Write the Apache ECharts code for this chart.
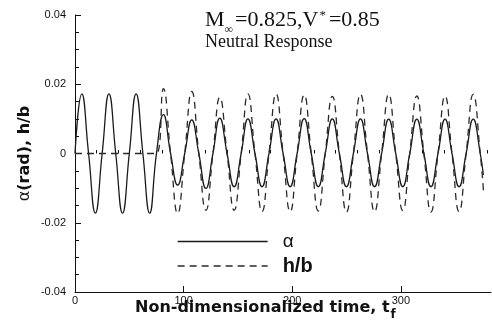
<!DOCTYPE html>
<html>
<head>
<meta charset="utf-8">
<script src="https://cdn.jsdelivr.net/npm/echarts@6/dist/echarts.min.js"></script>
<style>
html,body{margin:0;padding:0;background:#fff;}
#chart{width:492px;height:327px;}
</style>
</head>
<body>
<div id="chart"></div>
<script>
// time samples (non-dimensionalized time)
var timeT = [0, 6.25, 12.5, 18.75, 25, 31.25, 37.5, 43.75, 50, 56.25, 62.5, 68.75, 75,
  81.4, 88, 94.5, 101, 107.5, 114, 120.5, 127, 133.3, 140, 146.5, 153, 159.2, 165.7, 172.2, 178.6,
  185.1, 191.6, 198.1, 204.5, 211, 217.5, 224, 230.4, 236.9, 243.4, 249.9, 256.3, 262.8, 269.3,
  275.8, 282.3, 288.8, 295.3, 301.8, 308.2, 314.7, 321.2, 327.7, 334.2, 340.7, 347.1, 353.6, 360.1,
  366.6, 373.1, 376];
// alpha (rad)
var alphaV = [0, 0.0172, 0, -0.0172, 0, 0.0172, 0, -0.0172, 0, 0.0172, 0, -0.0172, 0,
  0.0112, 0, -0.0091, 0, 0.0097, 0, -0.0101, 0, 0.0102, 0, -0.0096, 0, 0.0100, 0, -0.0096, 0,
  0.0100, 0, -0.0096, 0, 0.0101, 0, -0.0096, 0, 0.0100, 0, -0.0096, 0, 0.0100, 0,
  -0.0096, 0, 0.0099, 0, -0.0096, 0, 0.0099, 0, -0.0096, 0, 0.0099, 0, -0.0096, 0,
  0.0099, 0, -0.0062];
// h/b
var hbV = [0, 0, 0, 0, 0, 0, 0, 0, 0, 0, 0, 0, 0,
  0.0187, 0, -0.0173, 0, 0.0179, 0, -0.0164, 0, 0.0162, 0, -0.0164, 0, 0.0172, 0, -0.0168, 0,
  0.0172, 0, -0.0168, 0, 0.0169, 0, -0.0166, 0, 0.0165, 0, -0.0169, 0, 0.0171, 0,
  -0.0168, 0, 0.0171, 0, -0.0165, 0, 0.0166, 0, -0.0169, 0, 0.0166, 0, -0.0168, 0,
  0.0171, 0, -0.0107];
var seriesNames = ['α', 'h/b'];
var xMajorTicks = [0, 100, 200, 300];
var xMinorTicks = [20, 40, 60, 80, 120, 140, 160, 180, 220, 240, 260, 280, 320, 340, 360, 380];
var yTicks = [-0.04, -0.02, 0, 0.02, 0.04];

function pairs(t, v) { return t.map(function (x, i) { return [x, v[i]]; }); }

var chart = echarts.init(document.getElementById('chart'), null, {renderer: 'canvas'});
var axisColor = '#111';
var sansTick = {fontFamily: 'Liberation Sans', fontSize: 11, color: '#111'};
var hiddenSymbol = {color: 'rgba(0,0,0,0)', borderWidth: 0, opacity: 0};

chart.setOption({
  backgroundColor: '#fff',
  animation: false,
  grid: {left: 75, right: 1, top: 15, bottom: 35, containLabel: false},
  title: [
    {
      left: 205, top: 9, padding: 0,
      text: '{m|M}{i|∞}{m|=0.825,V}{s|*}{m|=0.85}',
      textStyle: {fontWeight: 'normal', rich: {
        m: {fontFamily: 'Liberation Serif', fontWeight: 'normal', fontSize: 22, lineHeight: 22, color: '#111'},
        i: {fontFamily: 'Liberation Serif', fontWeight: 'normal', fontSize: 12, lineHeight: 12, padding: [20, 2, 0, 0], color: '#111'},
        s: {fontFamily: 'Liberation Serif', fontWeight: 'normal', fontSize: 13, lineHeight: 13, padding: [0, 3, 8, 1], color: '#111'}
      }}
    },
    {
      left: 205, top: 33, padding: 0,
      text: 'Neutral Response',
      textStyle: {fontFamily: 'Liberation Serif', fontSize: 18, fontWeight: 'normal', lineHeight: 18, color: '#111'}
    },
    {
      left: 135, top: 300, padding: 0,
      text: '{t|Non-dimensionalized time, t}{s|f}',
      textStyle: {rich: {
        t: {fontFamily: 'DejaVu Sans', fontWeight: 'bold', fontSize: 16, lineHeight: 16, color: '#111'},
        s: {fontFamily: 'DejaVu Sans', fontWeight: 'bold', fontSize: 12, lineHeight: 12, padding: [13, 0, 0, 1], color: '#111'}
      }}
    }
  ],
  legend: [
    {
      data: [seriesNames[0]], left: 177, top: 232, padding: 0, orient: 'vertical',
      itemWidth: 90, itemHeight: 20, selectedMode: false,
      itemStyle: hiddenSymbol,
      lineStyle: {color: '#1a1a1a', width: 1.3, type: 'solid'},
      formatter: function (n) { return '{a|' + n + '}'; },
      textStyle: {rich: {a: {fontFamily: 'Liberation Sans', fontSize: 19, lineHeight: 20, padding: [0, 0, 0, 10], color: '#111'}}}
    },
    {
      data: [seriesNames[1]], left: 177, top: 256, padding: 0, orient: 'vertical',
      itemWidth: 90, itemHeight: 20, selectedMode: false,
      itemStyle: hiddenSymbol,
      lineStyle: {color: '#2a2a2a', width: 1.3, type: [7, 5]},
      formatter: function (n) { return '{b|' + n + '}'; },
      textStyle: {rich: {b: {fontFamily: 'Liberation Sans', fontWeight: 'bold', fontSize: 20, lineHeight: 20, padding: [0, 0, 0, 10], color: '#111'}}}
    }
  ],
  xAxis: [
    {
      type: 'value', min: 0, max: 383, position: 'bottom',
      axisLine: {show: true, onZero: false, lineStyle: {color: axisColor, width: 1}},
      axisTick: {show: true, inside: true, length: 6, customValues: xMajorTicks, lineStyle: {color: axisColor}},
      axisLabel: Object.assign({show: true, margin: 3, customValues: xMajorTicks}, sansTick),
      splitLine: {show: false}
    },
    {
      type: 'value', min: 0, max: 383, position: 'bottom',
      axisLine: {show: false},
      axisTick: {show: true, inside: true, length: 3.5, customValues: xMinorTicks, lineStyle: {color: axisColor}},
      axisLabel: {show: false},
      splitLine: {show: false}
    }
  ],
  yAxis: {
    type: 'value', min: -0.04, max: 0.04, interval: 0.02,
    name: '{a|α}{b|(rad), h/b}', nameLocation: 'middle', nameRotate: 90, nameGap: 42,
    nameMoveOverlap: false,
    nameTextStyle: {rich: {
      a: {fontFamily: 'DejaVu Sans', fontSize: 16, color: '#111'},
      b: {fontFamily: 'DejaVu Sans', fontWeight: 'bold', fontSize: 16, color: '#111'}
    }},
    axisLine: {show: true, onZero: false, lineStyle: {color: axisColor, width: 1}},
    axisTick: {show: true, inside: true, length: 6, lineStyle: {color: axisColor}},
    minorTick: {show: true, splitNumber: 4, length: 4, lineStyle: {color: axisColor}},
    axisLabel: Object.assign({margin: 9, customValues: yTicks, formatter: function (v) { return String(+v.toFixed(2)); }}, sansTick),
    splitLine: {show: false}
  },
  series: [
    {
      name: seriesNames[0], type: 'line', xAxisIndex: 0, data: pairs(timeT, alphaV),
      symbol: 'none', smooth: 0.5, clip: true, color: '#1a1a1a',
      lineStyle: {color: '#1a1a1a', width: 1.3, type: 'solid'}
    },
    {
      name: seriesNames[1], type: 'line', xAxisIndex: 0, data: pairs(timeT, hbV),
      symbol: 'none', smooth: 0.5, clip: true, color: '#2a2a2a',
      lineStyle: {color: '#2a2a2a', width: 1.3, type: [7, 5]}
    }
  ]
});
</script>
</body>
</html>
